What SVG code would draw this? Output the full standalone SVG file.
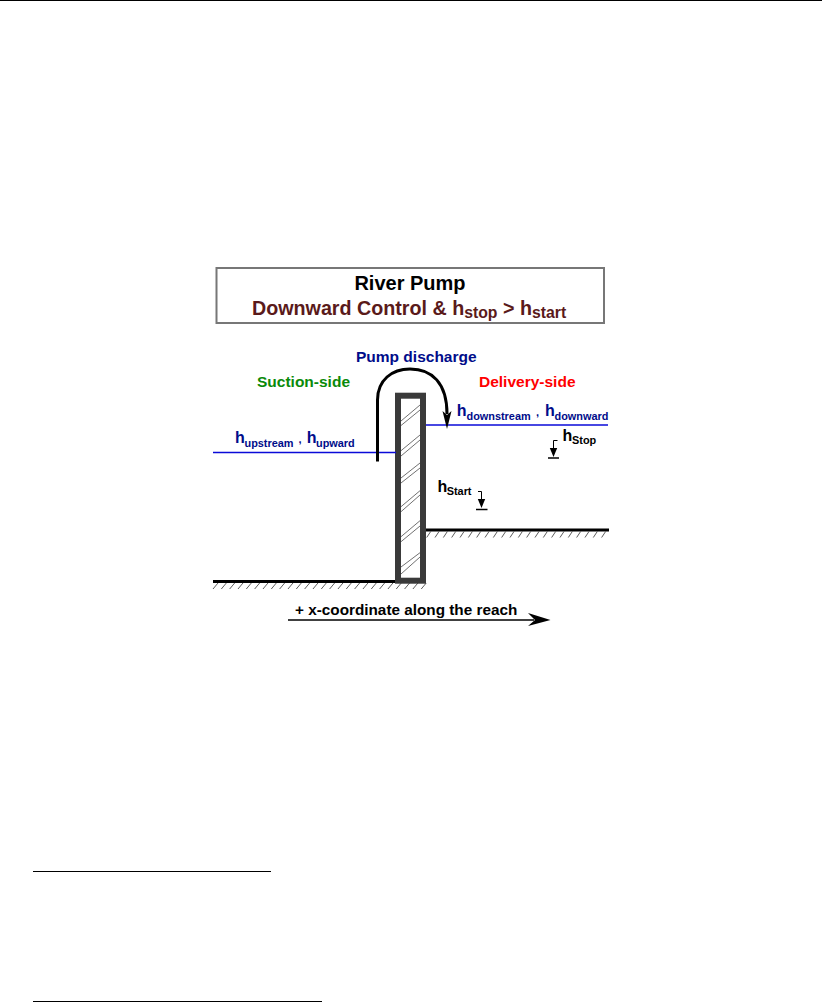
<svg xmlns="http://www.w3.org/2000/svg" width="822" height="1003" viewBox="0 0 822 1003">
<style>
text{font-family:"Liberation Sans",Arial,sans-serif;font-weight:bold}
.navy{fill:#000c8a}.k{fill:#000}
.lab{font-size:16px}.sub{font-size:10.900px}
.h{stroke:#333;stroke-width:.7;fill:none}
.g{stroke:#000;stroke-width:3;fill:none}
.t{stroke:#333;stroke-width:.8;fill:none}
.w{stroke:#0a0ad8;stroke-width:1.600;fill:none}
.p{stroke:#000;stroke-width:1;fill:none}
</style>
<rect width="822" height="1003" fill="#fff"/>
<g id="page-rules">
<line x1="0" y1="0.500" x2="822" y2="0.500" stroke="#000"/>
<line x1="33" y1="871.500" x2="271" y2="871.500" stroke="#000"/>
<line x1="33" y1="1001.500" x2="322" y2="1001.500" stroke="#000"/>
</g>
<g id="title">
<rect x="216.500" y="268" width="387.500" height="55" fill="#fff" stroke="#777" stroke-width="2"/>
<text x="410" y="290" text-anchor="middle" font-size="20" fill="#000">River Pump</text>
<text x="252" y="315" font-size="19.700" fill="#5a1a1a">Downward Control &amp; h<tspan font-size="15.800" dy="3">stop</tspan><tspan dy="-3"> &gt; h</tspan><tspan font-size="15.800" dy="3">start</tspan></text>
</g>
<g id="ground">
<line class="g" x1="213" y1="581.500" x2="396" y2="581.500"/>
<path class="t" d="M213 589l5-6m3.330 6l5-6m3.330 6l5-6m3.330 6l5-6m3.330 6l5-6m3.330 6l5-6m3.330 6l5-6m3.330 6l5-6m3.330 6l5-6m3.330 6l5-6m3.330 6l5-6m3.330 6l5-6m3.330 6l5-6m3.330 6l5-6m3.330 6l5-6m3.330 6l5-6m3.330 6l5-6m3.330 6l5-6m3.330 6l5-6m3.330 6l5-6m3.330 6l5-6m3.330 6l5-6m3.330 6l5-6m3.330 6l5-6m3.330 6l5-6m3.330 6l5-6"/>
<line class="g" x1="426" y1="530" x2="609" y2="530"/>
<path class="t" d="M426.700 537.500l4-6m4.330 6l4-6m4.330 6l4-6m4.330 6l4-6m4.330 6l4-6m4.330 6l4-6m4.330 6l4-6m4.330 6l4-6m4.330 6l4-6m4.330 6l4-6m4.330 6l4-6m4.330 6l4-6m4.330 6l4-6m4.330 6l4-6m4.330 6l4-6m4.330 6l4-6m4.330 6l4-6m4.330 6l4-6m4.330 6l4-6m4.330 6l4-6m4.330 6l4-6m4.330 6l4-6"/>
</g>
<g id="wall">
<rect x="398" y="395.700" width="25" height="185" fill="#fff" stroke="#3a3a3a" stroke-width="6"/>
<path class="h" d="M401 421L420 405M401 425.500L420 410M401 450.700L420 435M401 456L420 440M401 478L420 463M401 483L420 468M401 506.700L420 490.700M401 511.700L420 495M401 536.700L420 520.700M401 541.700L420 526M401 567L420 552.700M401 574L420 557"/>
</g>
<g id="water-levels">
<line class="w" x1="213" y1="452.500" x2="396" y2="452.500"/>
<line class="w" x1="426" y1="425" x2="608" y2="425"/>
</g>
<g id="connectors">
<path d="M377.500 461.500V400C377.500 380 392 369 410 369C432 369 447 383 447 414" fill="none" stroke="#000" stroke-width="3"/>
<path d="M447 429L442.500 411L447 415L451.500 411Z" fill="#000"/>
<path d="M288 620H534" stroke="#000" stroke-width="1.500" fill="none"/>
<path d="M550.500 620L528 613L535 620L528 626Z" fill="#000"/>
<path class="p" d="M557.500 440.500H553.500V450"/>
<path d="M553.500 457L549.800 448H557.200Z" fill="#000"/>
<line x1="548" y1="458" x2="559" y2="458" stroke="#000" stroke-width="1.500"/>
<path class="p" d="M478 491.500H481.500V501"/>
<path d="M481.500 508L477.800 499H485.200Z" fill="#000"/>
<line x1="476" y1="509.500" x2="487.500" y2="509.500" stroke="#000" stroke-width="1.500"/>
</g>
<g id="labels">
<text x="356" y="362" font-size="15.500" class="navy">Pump discharge</text>
<text x="257" y="386.500" font-size="15.500" fill="#0a8a0a">Suction-side</text>
<text x="479" y="386.500" font-size="15.500" fill="#ff0000">Delivery-side</text>
<text y="443" class="navy lab"><tspan x="235">h</tspan><tspan class="sub" x="244.500" dy="4">upstream</tspan><tspan font-size="11" x="298.500" dy="-4">,</tspan><tspan x="306.700">h</tspan><tspan class="sub" x="316" dy="4">upward</tspan></text>
<text y="416" class="navy lab"><tspan x="456.700">h</tspan><tspan class="sub" x="466.500" dy="3.500">downstream</tspan><tspan font-size="11" x="536" dy="-3.500">,</tspan><tspan x="545">h</tspan><tspan class="sub" x="554.500" dy="3.500">downward</tspan></text>
<text y="441" class="k lab"><tspan x="562.500">h</tspan><tspan class="sub" x="572" dy="2.500">Stop</tspan></text>
<text y="492.300" class="k lab"><tspan x="437.500">h</tspan><tspan class="sub" x="446.700" dy="2.500">Start</tspan></text>
<text x="295" y="614.500" font-size="15.300" class="k">+ x-coordinate along the reach</text>
</g>
</svg>
